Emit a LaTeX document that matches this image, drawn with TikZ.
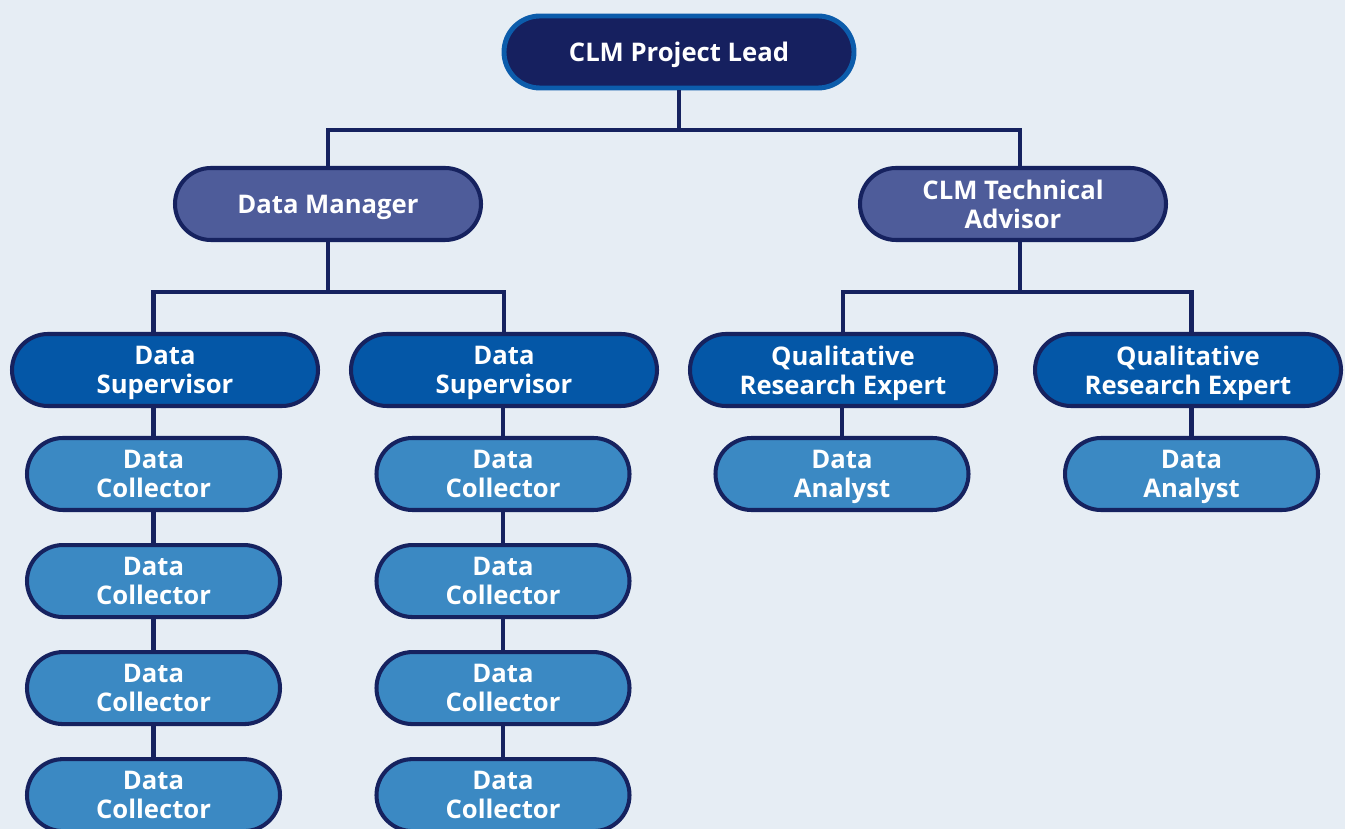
\documentclass[tikz,border=0pt]{standalone}
\usepackage{fontspec}
\setmainfont{Open Sans}[Ligatures=NoCommon]
\usepackage{xcolor}
\usetikzlibrary{positioning}

\definecolor{bgblue}{HTML}{E6EDF4}
\definecolor{navy}{HTML}{16225F}
\definecolor{leadfill}{HTML}{16205F}
\definecolor{leadedge}{HTML}{0C5CAB}
\definecolor{mgrfill}{HTML}{4E5C9A}
\definecolor{supfill}{HTML}{0457A7}
\definecolor{colfill}{HTML}{3B89C3}

\begin{document}
\begin{tikzpicture}[
    node distance=0.62cm,
    role/.style={draw=navy, line width=2.3pt, rounded corners=0.72cm, minimum height=1.44cm, minimum width=6.12cm, align=center, text=white, font=\bfseries\fontsize{14.6}{16.4}\selectfont, text depth=0pt, inner sep=2pt},
    lead/.style={role, fill=leadfill, draw=leadedge, line width=2.8pt, minimum width=7.0cm},
    manager/.style={role, fill=mgrfill},
    supervisor/.style={role, fill=supfill},
    staff/.style={role, fill=colfill, minimum width=5.06cm},
    link/.style={draw=navy, line width=2.3pt},
]

% Background
\fill[bgblue] (0,0) rectangle (26.9,-16.58);
\useasboundingbox (0,0) rectangle (26.9,-16.58);

% Top level
\node[lead] (lead) at (13.58,-1.04) {CLM Project Lead};

% Second level
\node[manager] (dm) at (6.56,-4.08) {Data Manager};
\node[manager] (ta) at (20.26,-4.08) {CLM Technical\\Advisor};

% Third level
\node[supervisor] (sup1) at (3.30,-7.40) {Data\\Supervisor};
\node[supervisor] (sup2) at (10.08,-7.40) {Data\\Supervisor};
\node[supervisor] (qre1) at (16.86,-7.40) {Qualitative\\Research Expert};
\node[supervisor] (qre2) at (23.76,-7.40) {Qualitative\\Research Expert};

% Collectors under first supervisor
\node[staff] (col1a) at (3.07,-9.48) {Data\\Collector};
\node[staff, below=of col1a] (col1b) {Data\\Collector};
\node[staff, below=of col1b] (col1c) {Data\\Collector};
\node[staff, below=of col1c] (col1d) {Data\\Collector};

% Collectors under second supervisor
\node[staff] (col2a) at (10.06,-9.48) {Data\\Collector};
\node[staff, below=of col2a] (col2b) {Data\\Collector};
\node[staff, below=of col2b] (col2c) {Data\\Collector};
\node[staff, below=of col2c] (col2d) {Data\\Collector};

% Analysts
\node[staff] (an1) at (16.84,-9.48) {Data\\Analyst};
\node[staff] (an2) at (23.83,-9.48) {Data\\Analyst};

% --- Connectors ---
\draw[link] (lead.south) -- ++(0,-0.8) coordinate (leadj);
\draw[link] (dm.north) |- (leadj) -| ([xshift=0.14cm]ta.north);

\draw[link] (dm.south) -- ++(0,-1.0) coordinate (dmj);
\draw[link] (sup1.north -| col1a.north) |- (dmj) -| (sup2.north);

\draw[link] ([xshift=0.14cm]ta.south) -- ++(0,-1.0) coordinate (taj);
\draw[link] (qre1.north) |- (taj) -| (qre2.north -| an2.north);

\draw[link] (sup1.south -| col1a.north) -- (col1a);
\draw[link] (col1a) -- (col1b);
\draw[link] (col1b) -- (col1c);
\draw[link] (col1c) -- (col1d);

\draw[link] (sup2.south -| col2a.north) -- (col2a);
\draw[link] (col2a) -- (col2b);
\draw[link] (col2b) -- (col2c);
\draw[link] (col2c) -- (col2d);

\draw[link] (qre1.south -| an1.north) -- (an1);
\draw[link] (qre2.south -| an2.north) -- (an2);

\end{tikzpicture}
\end{document}
